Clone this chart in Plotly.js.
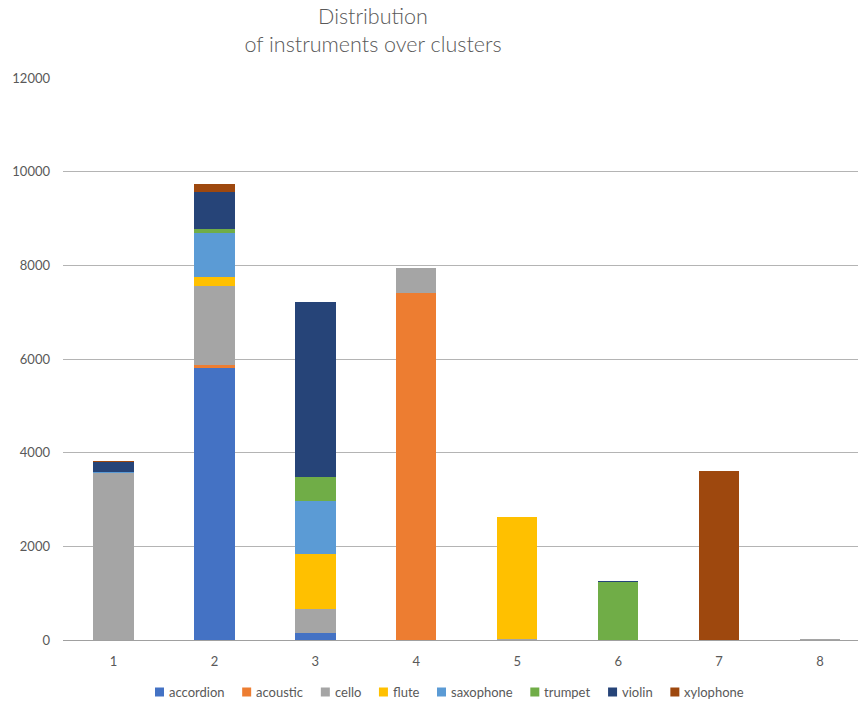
<!DOCTYPE html>
<html>
<head>
<meta charset="utf-8">
<script src="https://cdn.plot.ly/plotly-3.0.1.min.js"></script>
<style>
  html, body { margin: 0; padding: 0; background: #ffffff; }
  #chart { width: 859px; height: 702px; }
</style>
</head>
<body>
<div id="chart"></div>
<script>
// Cluster labels along the x axis
const clusters = ['1', '2', '3', '4', '5', '6', '7', '8'];

// Number of samples of each instrument in each cluster
const accordion = [0, 5800, 143, 0, 0, 0, 0, 0];
const acoustic  = [0, 71, 0, 7400, 0, 0, 0, 0];
const cello     = [3560, 1694, 512, 534, 15, 0, 0, 25];
const flute     = [0, 192, 1174, 0, 2605, 0, 0, 0];
const saxophone = [30, 925, 1138, 0, 0, 0, 0, 0];
const trumpet   = [0, 85, 506, 0, 0, 1240, 0, 0];
const violin    = [215, 803, 3736, 0, 0, 30, 0, 0];
const xylophone = [10, 158, 0, 0, 0, 0, 3608, 0];

const yTicks = [0, 2000, 4000, 6000, 8000, 10000, 12000];

const series = [
  { name: 'accordion', values: accordion, color: '#4472C4' },
  { name: 'acoustic',  values: acoustic,  color: '#ED7D31' },
  { name: 'cello',     values: cello,     color: '#A5A5A5' },
  { name: 'flute',     values: flute,     color: '#FFC000' },
  { name: 'saxophone', values: saxophone, color: '#5B9BD5' },
  { name: 'trumpet',   values: trumpet,   color: '#70AD47' },
  { name: 'violin',    values: violin,    color: '#264478' },
  { name: 'xylophone', values: xylophone, color: '#9E480E' }
];

const traces = series.map(s => ({
  type: 'bar',
  name: s.name,
  x: clusters,
  y: s.values,
  marker: { color: s.color, line: { width: 0 } },
  hoverinfo: 'x+y+name',
  showlegend: false
}));

const font = 'Lato, "Open Sans", sans-serif';
const textColor = '#595959';

// Plot area in pixels
const W = 859, H = 702;
const M = { l: 63, r: 1, t: 78, b: 62 };
const plotW = W - M.l - M.r;
const plotH = H - M.t - M.b;
const px2x = px => (px - M.l) / plotW;
const py2y = py => (H - M.b - py) / plotH;

// Legend row below the axis: square swatch followed by its label
const legendFontSize = 13;
const ctx = document.createElement('canvas').getContext('2d');
ctx.font = legendFontSize + 'px Lato';
const swatch = 9, swatchGap = 3;
const legendLeft = 155, legendRight = 742, legendY = 692;
const textWidths = series.map(s => ctx.measureText(s.name).width);
const used = textWidths.reduce((a, w) => a + swatch + swatchGap + w, 0);
const itemGap = (legendRight - legendLeft - used) / (series.length - 1);

const shapes = [];
const annotations = [];
let cursor = legendLeft;
series.forEach((s, i) => {
  shapes.push({
    type: 'rect', xref: 'paper', yref: 'paper',
    x0: px2x(cursor), x1: px2x(cursor + swatch),
    y0: py2y(legendY + swatch / 2), y1: py2y(legendY - swatch / 2),
    fillcolor: s.color, line: { width: 0 }
  });
  annotations.push({
    text: s.name, showarrow: false, xref: 'paper', yref: 'paper',
    x: px2x(cursor + swatch + swatchGap), xanchor: 'left',
    y: py2y(legendY), yanchor: 'middle',
    font: { family: font, size: legendFontSize, color: textColor }
  });
  cursor += swatch + swatchGap + textWidths[i] + itemGap;
});

const layout = {
  width: W,
  height: H,
  barmode: 'stack',
  bargap: 0.6,
  paper_bgcolor: '#ffffff',
  plot_bgcolor: '#ffffff',
  margin: { l: M.l, r: M.r, t: M.t, b: M.b, autoexpand: false },
  font: { family: font, color: textColor, size: 13 },
  title: {
    text: 'Distribution<br>of instruments over clusters',
    font: { family: font, size: 21.5, color: textColor, weight: 300 },
    x: 373 / W,
    xref: 'container',
    xanchor: 'center',
    y: 1 - 24 / H,
    yref: 'container',
    yanchor: 'top'
  },
  xaxis: {
    type: 'category',
    range: [-0.5, 7.376],
    showgrid: false,
    showline: false,
    ticks: '',
    ticklabelstandoff: 12,
    tickfont: { family: font, size: 13, color: textColor },
    fixedrange: true
  },
  yaxis: {
    range: [0, 12000],
    tickvals: yTicks,
    ticktext: yTicks.map(String),
    showgrid: true,
    gridcolor: '#b4b4b4',
    gridwidth: 1,
    zeroline: true,
    zerolinecolor: '#a0a0a0',
    zerolinewidth: 1,
    showline: false,
    ticks: '',
    ticklabelstandoff: 12,
    tickfont: { family: font, size: 13, color: textColor },
    fixedrange: true
  },
  showlegend: false,
  shapes: shapes,
  annotations: annotations
};

Plotly.newPlot('chart', traces, layout, { displayModeBar: false, staticPlot: true });
</script>
</body>
</html>
